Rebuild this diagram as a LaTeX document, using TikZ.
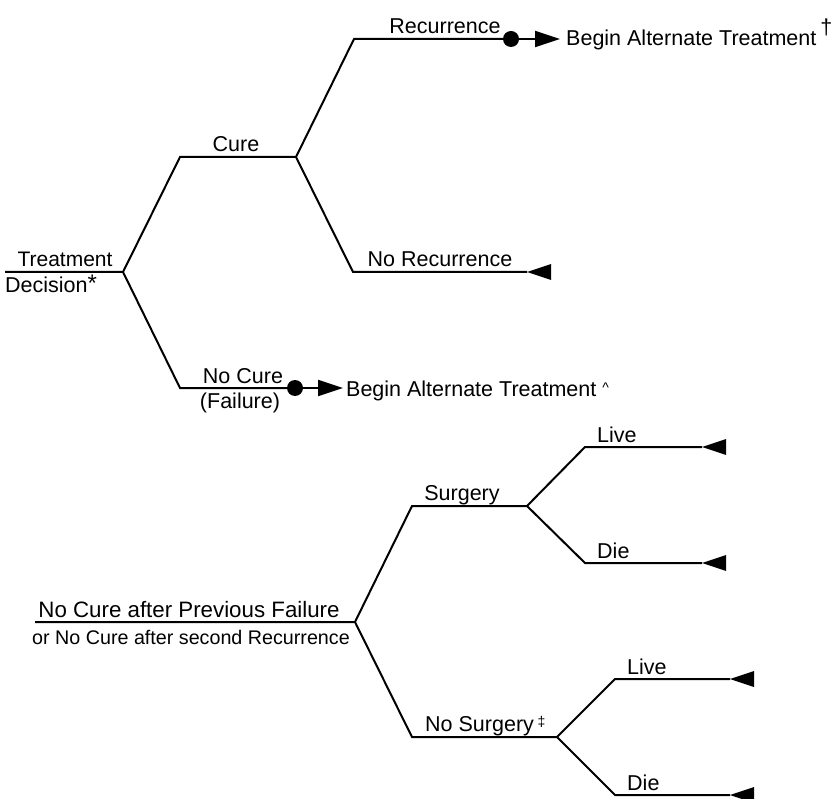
\documentclass[tikz,border=0pt]{standalone}
\usepackage{fontspec}
\setmainfont{Liberation Sans}
\usetikzlibrary{calc,arrows.meta,positioning}
\tikzset{
  branch/.style={line width=2pt, line join=miter, color=black},
  lbl/.style={anchor=base, inner sep=0pt, font=\fontsize{21.5}{25}\selectfont},
  sublbl/.style={anchor=base, inner sep=0pt, font=\fontsize{19.7}{23}\selectfont},
  chance/.style={fill=black, circle, inner sep=0pt, minimum size=16pt},
  termmark/.style={fill=black},
  outarrow/.style={line width=2pt, -{Triangle[length=25pt,width=16pt]}}
}
\newcommand{\termtri}[1]{\fill[termmark] (#1) -- ++(24,8) -- ++(0,-16) -- cycle;}

\begin{document}
\begin{tikzpicture}[x=1pt,y=-1pt]
  \useasboundingbox (0,0) rectangle (835,799);
  % first decision
  \coordinate (td) at (5,272);
  \coordinate (r1) at (123,272);
  \coordinate (cure0) at (180,157);
  \coordinate (cure1) at (296,157);
  \coordinate (fail0) at (180,388);
  \node (fc) at (295,388) [chance] {};
  \coordinate (rec0) at (354,39);
  \node (rc) at (511,39) [chance] {};
  \coordinate (norec0) at (353,272);
  \coordinate (norec1) at (527,272);
  \coordinate (fa) at (343,388);
  \coordinate (ra) at (560,39);

  \draw [branch] (td) -- (r1) -- (cure0) -- (cure1) -- (rec0) -- (rc);
  \draw [branch] (cure1) -- (norec0) -- (norec1);
  \draw [branch] (r1) -- (fail0) -- (fc);
  \draw [outarrow] (fc) -- (fa);
  \draw [outarrow] (rc) -- (ra);
  \termtri{norec1}

  \node (ttreat) at (65,267) [lbl, font=\fontsize{21}{25}\selectfont] {Treatment};
  \node (tdec) at (5,293) [lbl, anchor=base west]
    {Decision\raisebox{1pt}{\fontsize{24}{24}\selectfont *}};
  \node (tcure) at (236,152) [lbl] {Cure};
  \node (trec) at (445,34) [lbl] {Recurrence};
  \node (tnorec) at (440,267) [lbl] {No Recurrence};
  \node (tnocure) at (243,383) [lbl] {No Cure};
  \node (tfail) at (240,408) [lbl] {(Failure)};
  \node (talt1) at (566,46) [lbl, anchor=base west]
    {Begin Alternate Treatment\kern4pt\raisebox{11pt}{†}};
  \node (talt2) at (346,396) [lbl, anchor=base west]
    {Begin Alternate Treatment {\fontsize{14}{14}\selectfont\raisebox{4pt}{\textasciicircum}}};

  % second decision
  \coordinate (nc) at (35,622);
  \coordinate (r2) at (355,622);
  \coordinate (surg0) at (412,506);
  \coordinate (surg1) at (527,506);
  \coordinate (live0) at (585,447);
  \coordinate (live1) at (702,447);
  \coordinate (die0) at (585,563);
  \coordinate (die1) at (702,563);
  \coordinate (nsurg0) at (412,737);
  \coordinate (nsurg1) at (557,737);
  \coordinate (live2) at (615,679);
  \coordinate (live3) at (730,679);
  \coordinate (die2) at (615,795);
  \coordinate (die3) at (730,795);

  \draw [branch] (nc) -- (r2) -- (surg0) -- (surg1) -- (live0) -- (live1);
  \draw [branch] (surg1) -- (die0) -- (die1);
  \draw [branch] (r2) -- (nsurg0) -- (nsurg1) -- (live2) -- (live3);
  \draw [branch] (nsurg1) -- (die2) -- (die3);
  \termtri{live1}
  \termtri{die1}
  \termtri{live3}
  \termtri{die3}

  \node (tprev) at (189,617) [lbl, font=\fontsize{22.3}{26}\selectfont] {No Cure after Previous Failure};
  \node (tsecond) at (191,644) [sublbl] {or No Cure after second Recurrence};
  \node (tsurg) at (462,500) [lbl] {Surgery};
  \node (tlive) at (597,442) [lbl, anchor=base west] {Live};
  \node (tdie) at (597,558) [lbl, anchor=base west] {Die};
  \node (tnsurg) at (425,731) [lbl, anchor=base west]
    {No Surgery\,\raisebox{5pt}{\fontsize{14}{14}\selectfont ‡}};
  \node (tlive2) at (627,674) [lbl, anchor=base west] {Live};
  \node (tdie2) at (627,790) [lbl, anchor=base west] {Die};
\end{tikzpicture}
\end{document}
